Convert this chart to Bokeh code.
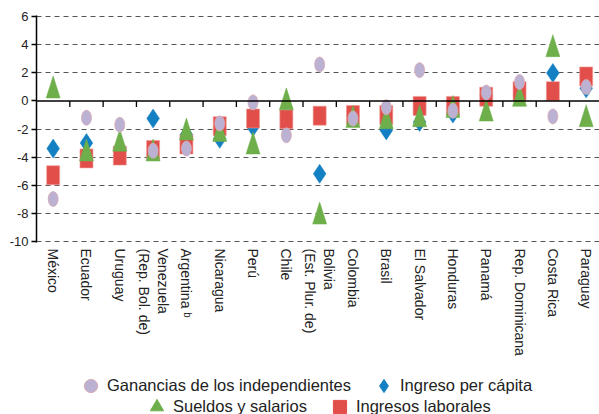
import numpy as np
from bokeh.plotting import figure
from bokeh.layouts import column
from bokeh.models import (ColumnDataSource, Range1d, FixedTicker, Span, Legend, LegendItem)
from bokeh.embed import file_html
from bokeh.resources import INLINE

# ---- data ----
countries = ["México", "Ecuador", "Uruguay", "Venezuela\n(Rep. Bol. de)", "Argentina ᵇ",
             "Nicaragua", "Perú", "Chile", "Bolivia\n(Est. Plur. de)", "Colombia", "Brasil",
             "El Salvador", "Honduras", "Panamá", "Rep. Dominicana", "Costa Rica", "Paraguay"]
ganancias = [-7.0, -1.2, -1.7, -3.55, -3.4, -1.6, -0.1, -2.45, 2.6, -1.25, -0.45, 2.2, -0.7, 0.6, 1.35, -1.1, 1.0]
ingreso_pc = [-3.4, -3.0, -3.9, -1.25, -2.4, -2.7, -1.85, -1.3, -5.2, -1.1, -2.1, -1.5, -0.9, 0.4, 0.5, 2.0, 0.9]
sueldos = [1.0, -3.5, -2.8, -3.5, -2.0, -2.1, -3.0, 0.15, -8.0, -1.1, -1.2, -1.05, -0.4, -0.65, 0.4, 3.95, -1.05]
laborales = [-5.3, -4.1, -3.9, -3.5, -3.1, -1.8, -1.25, -1.3, -1.05, -1.0, -1.0, -0.35, -0.35, 0.3, 0.7, 0.7, 1.75]
y_ticks = [-10, -8, -6, -4, -2, 0, 2, 4, 6]
series_names = ["Ganancias de los independientes", "Ingreso per cápita",
                "Sueldos y salarios", "Ingresos laborales"]

# ---- styling ----
FONT = "Liberation Sans"
C_CIRC, C_CIRC_LINE = "#BAB1D3", "#D9AAB4"
C_DIAM = "#1380C3"
C_TRI = "#6EAF4B"
C_SQ = "#E24E4A"

W, H = 599, 360
X0, X1 = -0.5, 16.4
Y0, Y1 = -10.1, 6.1
BORDER_L, BORDER_T, BORDER_B = 36, 15, 118

p = figure(width=W, height=H, output_backend="svg", toolbar_location=None,
           x_range=Range1d(X0, X1), y_range=Range1d(Y0, Y1),
           min_border_left=BORDER_L, min_border_right=0, min_border_top=BORDER_T,
           min_border_bottom=BORDER_B)
p.outline_line_color = None
p.background_fill_color = "white"

n = len(countries)
xs = np.arange(n)

# pixels per data unit (for triangle shape in data units)
px_x = (W - BORDER_L) / (X1 - X0)
px_y = (H - BORDER_T - BORDER_B) / (Y1 - Y0)
tri_hw = 7.0 / px_x
tri_hh = 11.0 / px_y

# grid
p.xgrid.visible = False
p.ygrid.ticker = FixedTicker(ticks=[t for t in y_ticks if t != 0])
p.ygrid.grid_line_color = "#555555"
p.ygrid.grid_line_dash = "5 4"
p.ygrid.grid_line_width = 1

# zero line with category boundary ticks
p.add_layout(Span(location=0, dimension="width", line_color="black", line_width=1.5))
bounds = xs[:-1] + 0.5
p.segment(x0=bounds, y0=np.zeros(n - 1), x1=bounds, y1=np.full(n - 1, -6.0 / px_y),
          line_color="black", line_width=1.3)

# series: diamond (bottom), square, triangle, circle (top)
src = ColumnDataSource(dict(x=xs, g=ganancias, d=ingreso_pc, s=sueldos, l=laborales))
p.scatter("x", "d", source=src, marker="diamond", size=19, fill_color=C_DIAM, line_color=C_DIAM, line_width=0.5)
p.rect("x", "l", source=src, width=13, height=19, width_units="screen", height_units="screen",
       fill_color=C_SQ, line_color="#EE9A96", line_width=0.6)
tri_xs = [[x - tri_hw, x, x + tri_hw] for x in xs]
tri_ys = [[v - tri_hh, v + tri_hh, v - tri_hh] for v in sueldos]
p.patches(tri_xs, tri_ys, fill_color=C_TRI, line_color=C_TRI, line_width=0.5)
p.ellipse("x", "g", source=src, width=10, height=15, width_units="screen", height_units="screen",
          fill_color=C_CIRC, line_color=C_CIRC_LINE, line_width=0.8)

# axes
ya = p.yaxis[0]
ya.ticker = FixedTicker(ticks=y_ticks)
ya.major_label_overrides = {t: str(t) for t in y_ticks}
ya.axis_line_color = "black"
ya.axis_line_width = 1.5
ya.major_tick_line_color = "black"
ya.major_tick_line_width = 1.3
ya.major_tick_out = 5
ya.major_tick_in = 0
ya.minor_tick_line_color = None
ya.major_label_standoff = 3
ya.major_label_text_font = FONT
ya.major_label_text_font_size = "13px"
ya.major_label_text_color = "#222222"

xa = p.xaxis[0]
xa.ticker = FixedTicker(ticks=list(xs))
xa.major_label_overrides = {int(i): c for i, c in enumerate(countries)}
xa.major_label_orientation = "vertical"
xa.axis_line_color = None
xa.major_tick_line_color = None
xa.minor_tick_line_color = None
xa.major_tick_out = 0
xa.major_tick_in = 0
xa.major_label_standoff = 6
xa.major_label_text_font = FONT
xa.major_label_text_font_size = "14px"
xa.major_label_text_color = "#222222"

# ---- legend strip (separate figure below) ----
LH = 414 - H
q = figure(width=W, height=LH, output_backend="svg", toolbar_location=None,
           x_range=Range1d(0, 1), y_range=Range1d(0, 1),
           x_axis_type=None, y_axis_type=None,
           min_border_left=0, min_border_right=0, min_border_top=0, min_border_bottom=0)
q.outline_line_color = None
q.grid.visible = False

# legend proxies: same data, hidden renderers (legend glyph only)
r_c = q.scatter("x", "g", source=src, marker="circle", fill_color=C_CIRC, line_color=C_CIRC_LINE, visible=False)
r_d = q.scatter("x", "d", source=src, marker="diamond", fill_color=C_DIAM, line_color=C_DIAM, visible=False)
r_t = q.scatter("x", "s", source=src, marker="triangle", fill_color=C_TRI, line_color=C_TRI, visible=False)
r_s = q.scatter("x", "l", source=src, marker="square", fill_color=C_SQ, line_color=C_SQ, visible=False)

GB = 33
def make_legend(items, loc):
    return Legend(items=items, location=loc, orientation="horizontal",
                  border_line_color=None, background_fill_alpha=0,
                  inactive_fill_alpha=0, click_policy="none",
                  padding=0, margin=0, spacing=16, label_standoff=-5,
                  glyph_width=GB, glyph_height=GB,
                  label_text_font=FONT, label_text_font_size="16.5px",
                  label_text_color="#222222")

leg1 = make_legend([LegendItem(label=series_names[0], renderers=[r_c]),
                    LegendItem(label=series_names[1], renderers=[r_d])], (38, 12))
leg2 = make_legend([LegendItem(label=series_names[2], renderers=[r_t]),
                    LegendItem(label=series_names[3], renderers=[r_s])], (104, -9))
q.add_layout(leg1, "center")
q.add_layout(leg2, "center")

layout = column(p, q, spacing=0)
open("out.html", "w").write(file_html(layout, INLINE))
